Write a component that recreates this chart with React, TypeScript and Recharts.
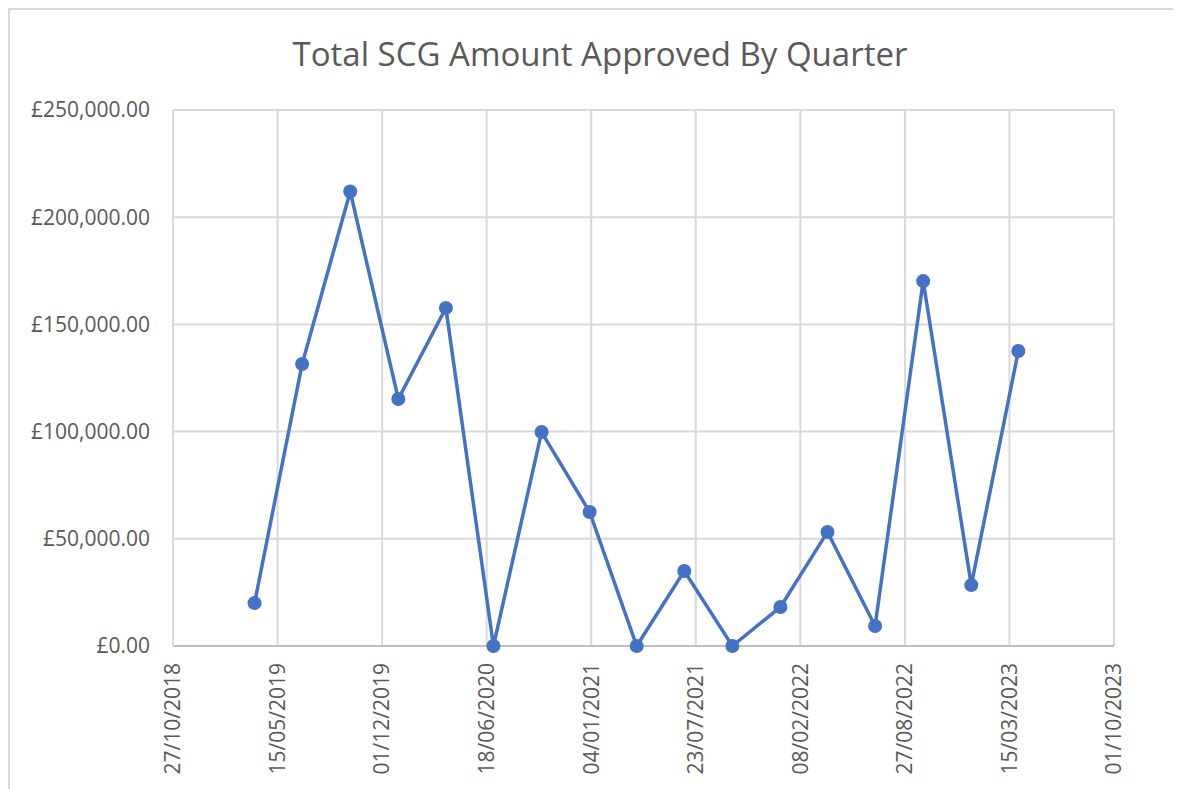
import React from "react";
import { LineChart, Line, XAxis, YAxis, CartesianGrid } from "recharts";

const quarterDates = [
  "01/04/2019", "01/07/2019", "01/10/2019", "01/01/2020", "01/04/2020",
  "01/07/2020", "01/10/2020", "01/01/2021", "01/04/2021", "01/07/2021",
  "01/10/2021", "01/01/2022", "01/04/2022", "01/07/2022", "01/10/2022",
  "01/01/2023", "01/04/2023",
];
const amounts = [
  20000, 131500, 212000, 115200, 157700,
  0, 99800, 62500, 0, 35000,
  0, 18200, 53200, 9300, 170200,
  28400, 137600,
];
const xTickLabels = [
  "27/10/2018", "15/05/2019", "01/12/2019", "18/06/2020", "04/01/2021",
  "23/07/2021", "08/02/2022", "27/08/2022", "15/03/2023", "01/10/2023",
];
const yTicks = [0, 50000, 100000, 150000, 200000, 250000];

const toDay = (s: string) => {
  const [d, m, y] = s.split("/").map(Number);
  return Date.UTC(y, m - 1, d) / 86400000;
};
const fromDay = (n: number) => {
  const dt = new Date(Math.round(n) * 86400000);
  const dd = String(dt.getUTCDate()).padStart(2, "0");
  const mm = String(dt.getUTCMonth() + 1).padStart(2, "0");
  return `${dd}/${mm}/${dt.getUTCFullYear()}`;
};

const data = quarterDates.map((d, i) => ({ t: toDay(d), v: amounts[i] }));
const xTicks = xTickLabels.map(toDay);

const FONT = "'Open Sans', 'Noto Sans', sans-serif";
const GREY = "#595959";

const XTick = (props: any) => {
  const { x, y, payload } = props;
  return (
    <g transform={`translate(${x},${y})`}>
      <text
        transform="rotate(-90)"
        textAnchor="end"
        dy="0.35em"
        fill={GREY}
        fontSize={21}
        fontFamily={FONT}
      >
        {fromDay(payload.value)}
      </text>
    </g>
  );
};

const fmtY = (v: number) =>
  "£" + v.toLocaleString("en-GB", { minimumFractionDigits: 2, maximumFractionDigits: 2 });

export default function App() {
  return (
    <div
      style={{
        position: "relative",
        width: 1173,
        height: 781,
        borderTop: "2px solid #d9d9d9",
        borderLeft: "2px solid #d9d9d9",
        boxSizing: "border-box",
        background: "#fff",
        overflow: "hidden",
      }}
    >
      <div
        style={{
          position: "absolute",
          left: 0,
          width: 1180,
          top: 21,
          textAlign: "center",
          fontFamily: FONT,
          fontSize: 33,
          color: GREY,
          whiteSpace: "nowrap",
        }}
      >
        Total SCG Amount Approved By Quarter
      </div>
      <LineChart
        width={1171}
        height={779}
        data={data}
        margin={{ top: 100, right: 67, bottom: 0, left: 0 }}
      >
        <CartesianGrid stroke="#d9d9d9" strokeWidth={2} />
        <XAxis
          dataKey="t"
          type="number"
          domain={[xTicks[0], xTicks[xTicks.length - 1]]}
          ticks={xTicks}
          interval={0}
          height={143}
          tickLine={false}
          tickSize={0}
          tickMargin={17}
          axisLine={{ stroke: "#bfbfbf", strokeWidth: 2 }}
          tick={<XTick />}
        />
        <YAxis
          type="number"
          domain={[0, 250000]}
          ticks={yTicks}
          interval={0}
          width={163}
          axisLine={false}
          tickLine={false}
          tickSize={0}
          tickMargin={23}
          tickFormatter={fmtY}
          tick={{ fill: GREY, fontSize: 21, fontFamily: FONT }}
        />
        <Line
          dataKey="v"
          type="linear"
          stroke="#4472C4"
          strokeWidth={3.5}
          dot={{ r: 7, fill: "#4472C4", stroke: "#4472C4", strokeWidth: 0 }}
          isAnimationActive={false}
        />
      </LineChart>
    </div>
  );
}
